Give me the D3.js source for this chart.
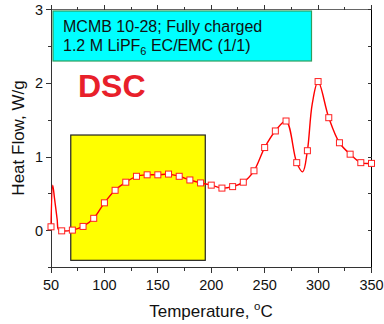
<!DOCTYPE html>
<html><head><meta charset="utf-8">
<script src="https://cdn.jsdelivr.net/npm/d3@7"></script>
<style>body{margin:0;background:#fff}svg{display:block;font-family:Arial,"Liberation Sans",sans-serif}</style>
</head><body><div id="chart"></div>
<script>
// Marker data (every 10 °C)
const markerTemps = [50,60,70,80,90,100,110,120,130,140,150,160,170,180,190,200,210,220,230,240,250,260,270,280,290,300,310,320,330,340,350];
const markerHeat  = [0.055,0.0,0.01,0.06,0.17,0.38,0.55,0.66,0.74,0.76,0.76,0.77,0.74,0.69,0.65,0.62,0.58,0.60,0.66,0.815,1.13,1.355,1.49,0.925,1.087,2.025,1.535,1.195,1.04,0.925,0.915];
// Extra curve points between markers (spike near 51 °C, dip near 286 °C)
const extraTemps = [51.6,53.2,55.8,56.9,285.6,294.5];
const extraHeat  = [0.62,0.45,0.15,0.02,0.80,1.72];
const xTicks = [50,100,150,200,250,300,350];
const xMinorTicks = [75,125,175,225,275,325];
const yTicks = [0,1,2,3];
const yMinorTicks = [-0.5,0.5,1.5,2.5];
const highlightBox = {x0:68.5, x1:194.4, y0:-0.40, y1:1.30};

const W=384,H=324;
const L=51,R=371.5,T=9.7,B=267.7;
const svg=d3.select("#chart").append("svg").attr("width",W).attr("height",H);
const x=d3.scaleLinear().domain([50,350]).range([L,R]);
const y=d3.scaleLinear().domain([-0.5,3]).range([B,T]);

// yellow box
svg.append("rect").attr("x",x(highlightBox.x0)).attr("y",y(highlightBox.y1))
  .attr("width",x(highlightBox.x1)-x(highlightBox.x0)).attr("height",y(highlightBox.y0)-y(highlightBox.y1))
  .attr("fill","#ffff00").attr("stroke","#222").attr("stroke-width",1.2);

// legend box
svg.append("rect").attr("x",53).attr("y",11).attr("width",258.5).attr("height",50)
  .attr("fill","#00ffff").attr("stroke","#2e9e5e").attr("stroke-width",1.2);
const lt=svg.append("g").attr("font-size",16).attr("fill","#111");
lt.append("text").attr("x",63).attr("y",31.5).text("MCMB 10-28; Fully charged");
const l2=lt.append("text").attr("x",63).attr("y",51);
l2.append("tspan").text("1.2 M LiPF");
l2.append("tspan").attr("font-size",11).attr("dy",4).text("6");
l2.append("tspan").attr("dy",-4).text(" EC/EMC (1/1)");

svg.append("text").attr("x",78).attr("y",97).attr("font-size",32).attr("font-weight","bold")
  .attr("fill","#e8202a").text("DSC");

// axes
const ax=svg.append("g").attr("stroke","#333").attr("stroke-width",1).attr("shape-rendering","crispEdges");
ax.append("line").attr("x1",L).attr("x2",R).attr("y1",B).attr("y2",B);
ax.append("line").attr("x1",L).attr("x2",R).attr("y1",T).attr("y2",T).attr("stroke","#666");
ax.append("line").attr("x1",L).attr("x2",L).attr("y1",T).attr("y2",B);
ax.append("line").attr("x1",R).attr("x2",R).attr("y1",T).attr("y2",B).attr("stroke","#000");
xTicks.forEach(t=>{
  ax.append("line").attr("x1",x(t)).attr("x2",x(t)).attr("y1",B).attr("y2",B+5);
  ax.append("line").attr("x1",x(t)).attr("x2",x(t)).attr("y1",T).attr("y2",T-5);
});
xMinorTicks.forEach(t=>{
  ax.append("line").attr("x1",x(t)).attr("x2",x(t)).attr("y1",B).attr("y2",B+3);
  ax.append("line").attr("x1",x(t)).attr("x2",x(t)).attr("y1",T).attr("y2",T-3);
});
yTicks.forEach(t=>{
  ax.append("line").attr("x1",L).attr("x2",L-5).attr("y1",y(t)).attr("y2",y(t));
  ax.append("line").attr("x1",R).attr("x2",R-4).attr("y1",y(t)).attr("y2",y(t));
});
yMinorTicks.forEach(t=>{
  ax.append("line").attr("x1",L).attr("x2",L-3).attr("y1",y(t)).attr("y2",y(t));
  ax.append("line").attr("x1",R).attr("x2",R-4).attr("y1",y(t)).attr("y2",y(t));
});
const tl=svg.append("g").attr("font-size",14.5).attr("fill","#111");
xTicks.forEach(t=>tl.append("text").attr("x",x(t)).attr("y",B+22).attr("text-anchor","middle").text(t));
yTicks.forEach(t=>tl.append("text").attr("x",L-8).attr("y",y(t)+5).attr("text-anchor","end").text(t));

// titles
const xt=svg.append("text").attr("x",211).attr("y",317).attr("text-anchor","middle").attr("font-size",17).attr("fill","#111");
xt.append("tspan").text("Temperature, ");
xt.append("tspan").attr("font-size",11.5).attr("dy",-7).text("o");
xt.append("tspan").attr("dy",7).text("C");
svg.append("text").attr("transform","translate(24,138) rotate(-90)").attr("text-anchor","middle")
  .attr("font-size",17).attr("fill","#111").text("Heat Flow, W/g");

// line
const pts=markerTemps.map((t,i)=>[t,markerHeat[i]]).concat(extraTemps.map((t,i)=>[t,extraHeat[i]])).sort((a,b)=>a[0]-b[0]);
svg.append("path").datum(pts).attr("fill","none").attr("stroke","#ff0000").attr("stroke-width",1.4)
  .attr("d",d3.line().x(d=>x(d[0])).y(d=>y(d[1])).curve(d3.curveCatmullRom.alpha(0.5)));
svg.append("g").selectAll("rect").data(markerTemps).join("rect")
  .attr("x",(d)=>x(d)-3).attr("y",(d,i)=>y(markerHeat[i])-3).attr("width",6).attr("height",6)
  .attr("fill","#fff").attr("stroke","#ff2020").attr("stroke-width",1);
</script></body></html>
